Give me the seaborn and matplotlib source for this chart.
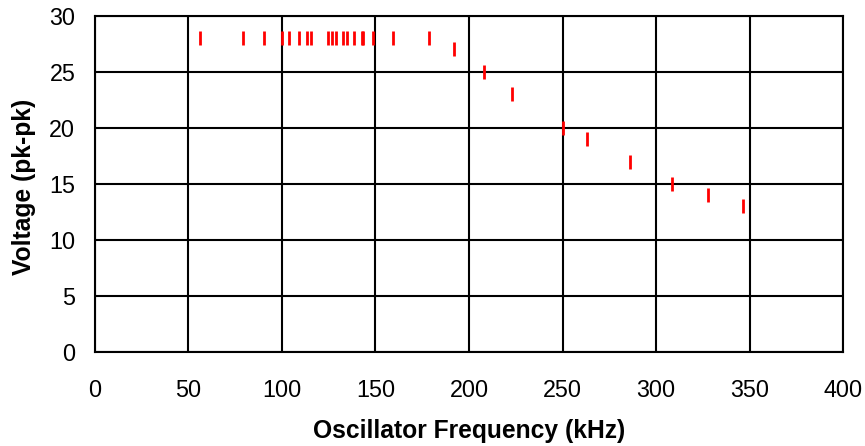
import matplotlib
matplotlib.use("Agg")
import matplotlib.pyplot as plt
import seaborn as sns
import pandas as pd

# Measured oscillator response: frequency (kHz) vs output voltage (pk-pk)
frequency_khz = [56.4, 79.4, 90.5, 100.2, 103.7, 109.3, 113.6, 115.6, 124.5,
                 126.8, 128.8, 132.8, 134.6, 138.7, 142.7, 143.5, 148.5, 159.6,
                 178.8, 191.8, 208.0, 223.1, 250.1, 263.2, 286.2, 308.5, 327.6,
                 346.6]
voltage_pkpk = [28, 28, 28, 28, 28, 28, 28, 28, 28,
                28, 28, 28, 28, 28, 28, 28, 28, 28,
                28, 27, 25, 23, 20, 19, 17, 15, 14,
                13]

x_ticks = [0, 50, 100, 150, 200, 250, 300, 350, 400]
y_ticks = [0, 5, 10, 15, 20, 25, 30]

df = pd.DataFrame({"freq": frequency_khz, "volt": voltage_pkpk})

sns.set_theme(style="white")
plt.rcParams["font.family"] = ["Liberation Sans", "DejaVu Sans"]

fig = plt.figure(figsize=(8.65, 4.46), dpi=100)
ax = fig.add_axes([0.1095, 0.2101, 0.8654, 0.7547])

sns.scatterplot(data=df, x="freq", y="volt", marker="|", s=9.4 ** 2,
                color="#ff0000", linewidth=2.0, ax=ax, zorder=3)

ax.set_xlim(0, 400)
ax.set_ylim(0, 30)
ax.set_xticks(x_ticks)
ax.set_yticks(y_ticks)
ax.grid(True, color="black", linewidth=1.5)
for s in ax.spines.values():
    s.set_color("black")
    s.set_linewidth(1.5)
ax.tick_params(axis="both", direction="out", length=6, width=1.5,
               color="black", labelsize=16.8, labelcolor="black")
ax.tick_params(axis="x", pad=13)
ax.tick_params(axis="y", pad=8)

ax.set_xlabel("Oscillator Frequency (kHz)", fontsize=17.7, fontweight="bold",
              color="black")
ax.set_ylabel("Voltage (pk-pk)", fontsize=17.7, fontweight="bold",
              color="black")
ax.xaxis.set_label_coords(0.5, -0.198)
ax.yaxis.set_label_coords(-0.079, 0.49)

fig.savefig("out.png", dpi=100)
